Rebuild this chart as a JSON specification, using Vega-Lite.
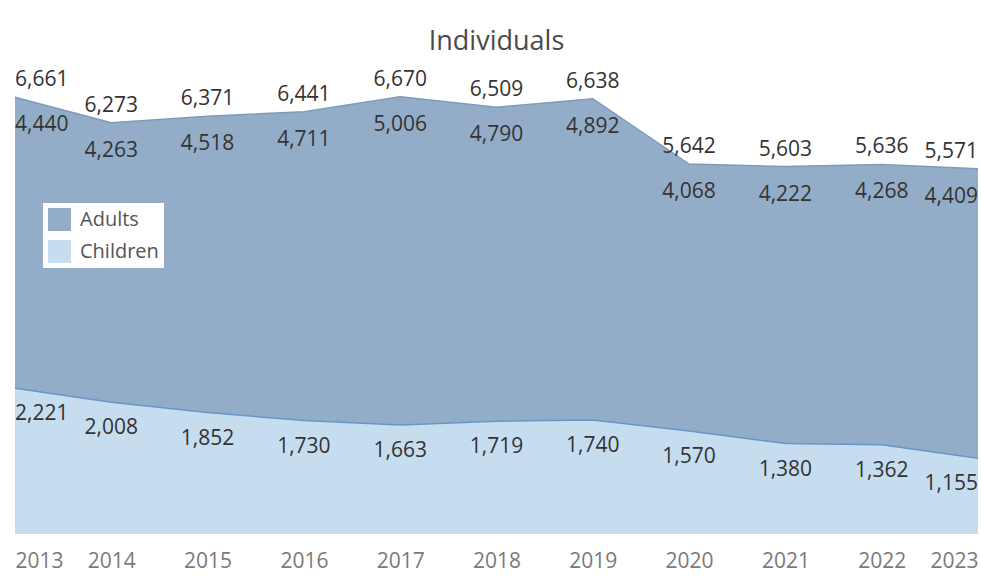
{
  "$schema": "https://vega.github.io/schema/vega-lite/v6.json",
  "autosize": "none",
  "width": 963,
  "height": 459,
  "padding": {"left": 15, "top": 75, "right": 3, "bottom": 52},
  "title": {"text": "Individuals", "fontSize": 27, "fontWeight": "normal", "color": "#4a4a4a", "font": "Open Sans", "offset": 13, "anchor": "middle"},
  "config": {"view": {"stroke": null}, "font": "Open Sans"},
  "data": {"values": [
    {"year": 2013, "adults": 4440, "children": 2221, "total": 6661},
    {"year": 2014, "adults": 4263, "children": 2008, "total": 6273},
    {"year": 2015, "adults": 4518, "children": 1852, "total": 6371},
    {"year": 2016, "adults": 4711, "children": 1730, "total": 6441},
    {"year": 2017, "adults": 5006, "children": 1663, "total": 6670},
    {"year": 2018, "adults": 4790, "children": 1719, "total": 6509},
    {"year": 2019, "adults": 4892, "children": 1740, "total": 6638},
    {"year": 2020, "adults": 4068, "children": 1570, "total": 5642},
    {"year": 2021, "adults": 4222, "children": 1380, "total": 5603},
    {"year": 2022, "adults": 4268, "children": 1362, "total": 5636},
    {"year": 2023, "adults": 4409, "children": 1155, "total": 5571}
  ]},
  "encoding": {
    "x": {
      "field": "year", "type": "quantitative",
      "scale": {"domain": [2013, 2023], "nice": false, "zero": false},
      "axis": {"title": null, "values": [2013, 2014, 2015, 2016, 2017, 2018, 2019, 2020, 2021, 2022, 2023], "format": "d", "labelFlush": true, "grid": false, "ticks": false, "domain": false, "labelFontSize": 21, "labelColor": "#7a7a7a", "labelPadding": 16, "labelFont": "Open Sans"}
    }
  },
  "layer": [
    {
      "mark": {"type": "area", "opacity": 1},
      "encoding": {
        "y": {"field": "total", "type": "quantitative", "scale": {"domain": [0, 7000], "nice": false}, "axis": null},
        "color": {"datum": "Adults", "type": "nominal",
          "scale": {"domain": ["Adults", "Children"], "range": ["#93adc8", "#c5ddef"]},
          "legend": {"title": null, "orient": "none", "legendX": 28, "legendY": 128, "fillColor": "#ffffff", "padding": 5, "symbolType": "square", "symbolSize": 529, "symbolStrokeWidth": 0, "symbolOpacity": 1, "labelFontSize": 20, "labelColor": "#555555", "labelFont": "Open Sans", "rowPadding": 9, "labelOffset": 9}
        }
      }
    },
    {
      "mark": {"type": "area", "opacity": 1},
      "encoding": {
        "y": {"field": "children", "type": "quantitative"},
        "color": {"datum": "Children", "type": "nominal"}
      }
    },
    {
      "mark": {"type": "line", "color": "#7b9bc0", "strokeWidth": 1.5},
      "encoding": {"y": {"field": "total", "type": "quantitative"}}
    },
    {
      "mark": {"type": "line", "color": "#6a95c8", "strokeWidth": 1.5},
      "encoding": {"y": {"field": "children", "type": "quantitative"}}
    },
    {
      "mark": {"type": "text", "fontSize": 21, "color": "#333333", "baseline": "middle", "dy": -17,
        "align": {"expr": "datum.year == 2013 ? 'left' : datum.year == 2023 ? 'right' : 'center'"}},
      "encoding": {"y": {"field": "total", "type": "quantitative"}, "text": {"field": "total", "type": "quantitative", "format": ","}}
    },
    {
      "mark": {"type": "text", "fontSize": 21, "color": "#333333", "baseline": "middle", "dy": 28,
        "align": {"expr": "datum.year == 2013 ? 'left' : datum.year == 2023 ? 'right' : 'center'"}},
      "encoding": {"y": {"field": "total", "type": "quantitative"}, "text": {"field": "adults", "type": "quantitative", "format": ","}}
    },
    {
      "mark": {"type": "text", "fontSize": 21, "color": "#333333", "baseline": "middle", "dy": 26,
        "align": {"expr": "datum.year == 2013 ? 'left' : datum.year == 2023 ? 'right' : 'center'"}},
      "encoding": {"y": {"field": "children", "type": "quantitative"}, "text": {"field": "children", "type": "quantitative", "format": ","}}
    }
  ]
}
